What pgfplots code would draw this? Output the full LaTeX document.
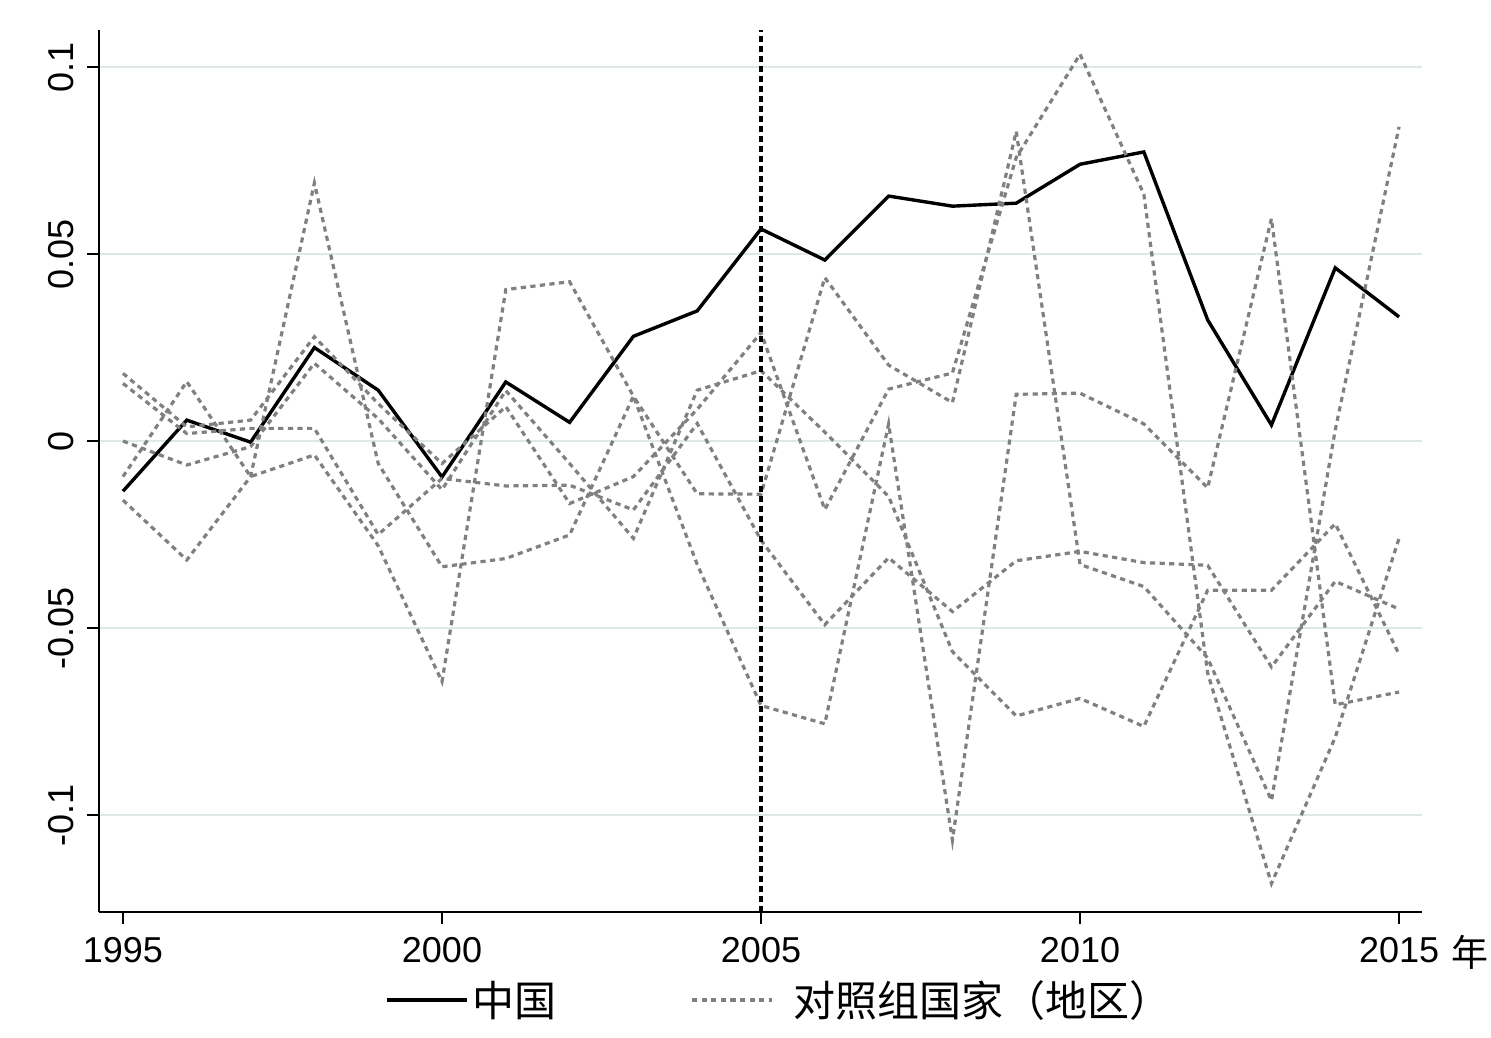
\documentclass[border=0pt]{standalone}
\usepackage{pgfplots}
\pgfplotsset{compat=1.18}
\usepackage{fontspec}
\setmainfont{Liberation Sans}
\newfontfamily\cjk{Noto Sans CJK SC}
\definecolor{gridc}{RGB}{222,232,232}
\definecolor{ctrl}{RGB}{128,128,128}
\begin{document}
\begin{tikzpicture}
\useasboundingbox (-49.5pt,-62.5pt) rectangle (696pt,456pt);
\begin{axis}[
  at={(0pt,0pt)}, anchor=south west,
  scale only axis, width=661.5pt, height=441pt,
  xmin=1994.624, xmax=2015.36,
  ymin=-0.1259, ymax=0.1099,
  axis lines=left, axis line style={-, line width=1pt, black},
  tick align=outside, major tick length=6pt,
  tick style={black, line width=0.9pt},
  xtick={1995,2000,2005,2010,2015},
  xticklabels={1995,2000,2005,2010,2015},
  xticklabel style={yshift=-3pt},
  ytick={-0.1,-0.05,0,0.05,0.1},
  yticklabels={-0.1,-0.05,0,0.05,0.1},
  yticklabel style={xshift=-3pt, rotate=90, anchor=south},
  every tick label/.append style={font=\fontsize{18}{21}\selectfont},
  ymajorgrids, grid style={gridc, line width=1pt},
  xlabel={\cjk 年},
  xlabel style={at={(axis description cs:1.036,0)}, anchor=center, yshift=-20pt, font=\fontsize{18.5}{21}\selectfont},
  legend columns=2,
  legend style={at={(axis description cs:0.515,-0.0998)}, anchor=center, draw=none, fill=none,
    font=\fontsize{21}{24}\selectfont\cjk, /tikz/every even column/.append style={column sep=65pt}},
  legend image code/.code={\draw[#1] (0pt,0pt) -- (40pt,0pt);},
]
% China
\addplot[black, line width=1.7pt] coordinates {
(1995,-0.0134) (1996,0.0056) (1997,-0.0003) (1998,0.0250) (1999,0.0136)
(2000,-0.0096) (2001,0.0158) (2002,0.0050) (2003,0.0280) (2004,0.0348)
(2005,0.0567) (2006,0.0484) (2007,0.0655) (2008,0.0628) (2009,0.0636)
(2010,0.0740) (2011,0.0773) (2012,0.0324) (2013,0.0043) (2014,0.0463) (2015,0.0332)};
\addlegendentry{中国}
% control 1
\addplot[ctrl, line width=1.6pt, dash pattern=on 2.6pt off 2.2pt] coordinates {
(1995,0.0181) (1996,0.0038) (1997,0.0056) (1998,0.0279) (1999,0.0100)
(2000,-0.0060) (2001,0.0092) (2002,-0.0167) (2003,-0.0095) (2004,0.0085)
(2005,0.0290) (2006,-0.0183) (2007,0.0139) (2008,0.0182) (2009,0.0758)
(2010,0.1034) (2011,0.0660) (2012,-0.0620) (2013,-0.1183) (2014,-0.0792) (2015,-0.0260)};
\addlegendentry{\hspace{8pt}对照组国家（地区）}
% control 2
\addplot[ctrl, line width=1.6pt, dash pattern=on 2.6pt off 2.2pt, forget plot] coordinates {
(1995,-0.0095) (1996,0.0159) (1997,-0.0095) (1998,-0.0037) (1999,-0.0280)
(2000,-0.0643) (2001,0.0405) (2002,0.0426) (2003,0.0120) (2004,-0.0330)
(2005,-0.0707) (2006,-0.0756) (2007,0.0046) (2008,-0.1067) (2009,0.0125)
(2010,0.0128) (2011,0.0046) (2012,-0.0125) (2013,0.0595) (2014,-0.0705) (2015,-0.0671)};
% control 3
\addplot[ctrl, line width=1.6pt, dash pattern=on 2.6pt off 2.2pt, forget plot] coordinates {
(1995,0.0154) (1996,0.0020) (1997,0.0034) (1998,0.0034) (1999,-0.0250)
(2000,-0.0100) (2001,-0.0120) (2002,-0.0118) (2003,-0.0184) (2004,0.0047)
(2005,-0.0265) (2006,-0.0491) (2007,-0.0312) (2008,-0.0456) (2009,-0.0320)
(2010,-0.0295) (2011,-0.0325) (2012,-0.0332) (2013,-0.0604) (2014,-0.0375) (2015,-0.0449)};
% control 4
\addplot[ctrl, line width=1.6pt, dash pattern=on 2.6pt off 2.2pt, forget plot] coordinates {
(1995,-0.0158) (1996,-0.0318) (1997,-0.0095) (1998,0.0690) (1999,-0.0060)
(2000,-0.0336) (2001,-0.0314) (2002,-0.0251) (2003,0.0120) (2004,-0.0141)
(2005,-0.0142) (2006,0.0437) (2007,0.0203) (2008,0.0103) (2009,0.0828)
(2010,-0.0330) (2011,-0.0389) (2012,-0.0580) (2013,-0.0961) (2014,0.0030) (2015,0.0840)};
% control 5
\addplot[ctrl, line width=1.6pt, dash pattern=on 2.6pt off 2.2pt, forget plot] coordinates {
(1995,0.0000) (1996,-0.0064) (1997,-0.0015) (1998,0.0208) (1999,0.0060)
(2000,-0.0130) (2001,0.0135) (2002,-0.0060) (2003,-0.0260) (2004,0.0136)
(2005,0.0188) (2006,0.0024) (2007,-0.0148) (2008,-0.0563) (2009,-0.0735)
(2010,-0.0688) (2011,-0.0763) (2012,-0.0399) (2013,-0.0399) (2014,-0.0221) (2015,-0.0570)};
% vertical reference line
\addplot[black, line width=1.6pt, dash pattern=on 3pt off 2pt, forget plot] coordinates {(2005,-0.1259) (2005,0.1099)};
\end{axis}
\end{tikzpicture}
\end{document}
